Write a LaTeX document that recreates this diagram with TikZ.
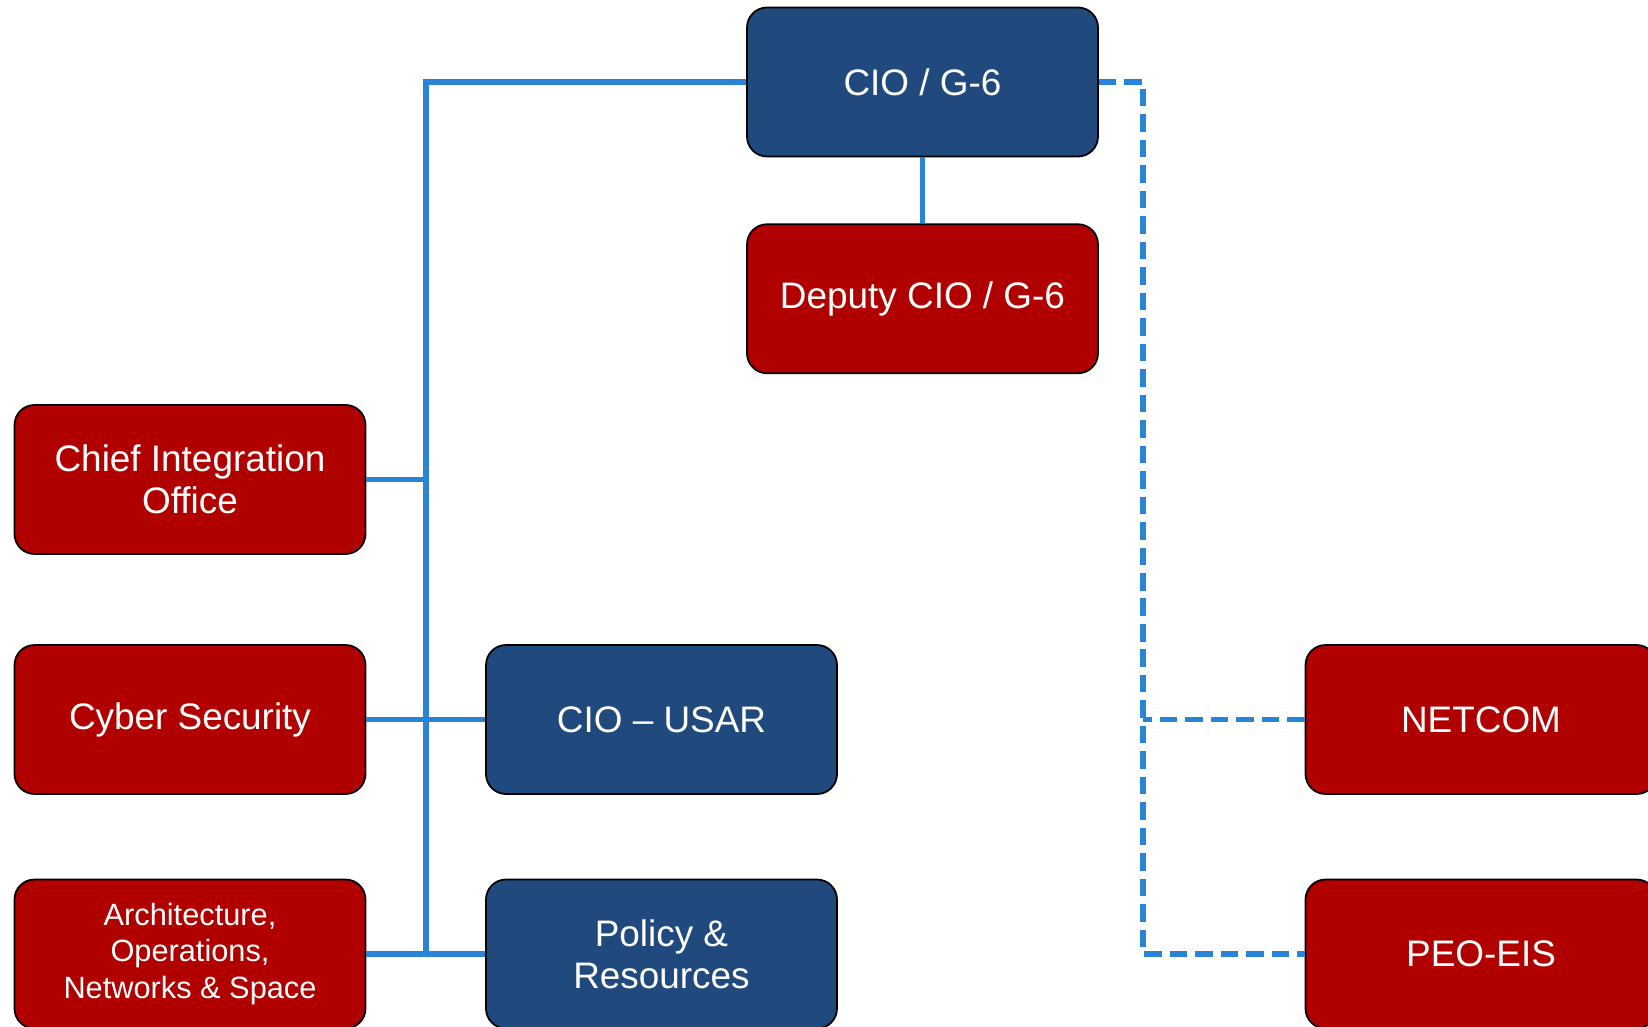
\documentclass[tikz,border=0pt]{standalone}
\usepackage{fontspec}
\setmainfont{Liberation Sans}
\usetikzlibrary{positioning,calc}
\definecolor{boxred}{RGB}{176,0,0}
\definecolor{boxblue}{RGB}{32,74,125}
\definecolor{linkblue}{RGB}{41,131,214}

\begin{document}
\begin{tikzpicture}[
            unit/.style={rectangle, draw=black, line width=1pt, rounded corners=0.4cm,
                   text=white, align=center, minimum width=7.02cm, minimum height=2.98cm,
                   font=\fontsize{21}{24}\selectfont},
            redunit/.style={unit, fill=boxred},
            blueunit/.style={unit, fill=boxblue},
            link/.style={draw=linkblue, line width=3pt},
            dlink/.style={link, dash pattern=on 10pt off 4.5pt}
        ]
            \useasboundingbox (0,0) rectangle (32.96,-20.52);

            \node [blueunit] (cio) at (18.45,-1.64) {CIO / G-6};
            \node [redunit,below=1.32cm of cio] (deputy) {Deputy CIO / G-6};
            \node [redunit] (chief) at (3.8,-9.59) {Chief Integration\\Office};
            \node [redunit] (cyber) at (3.8,-14.39) {Cyber Security};
            \node [redunit,font=\fontsize{17.5}{21}\selectfont] (arch) at (3.8,-19.08) {Architecture,\\Operations,\\Networks \& Space};
            \node [blueunit] (usar) at (13.23,-14.39) {CIO -- USAR};
            \node [blueunit] (policy) at (13.23,-19.08) {Policy \&\\Resources};
            \node [redunit] (netcom) at (29.62,-14.39) {NETCOM};
            \node [redunit] (peo) at (29.62,-19.08) {PEO-EIS};

            \coordinate (bus) at (8.52,0);
            \coordinate (dbus) at (22.86,0);

            % Draw edges
            \draw [link] (cio.west) -| (bus |- arch.east);
            \draw [link] (cio) -- (deputy);
            \draw [link] (chief.east) -- (chief.east -| bus);
            \draw [link] (cyber) -- (usar);
            \draw [link] (arch) -- (policy);
            \draw [dlink] (cio.east) -| (dbus |- peo.west) -- (peo.west);
            \draw [dlink] (netcom.west) -- (netcom.west -| dbus);
        \end{tikzpicture}
\end{document}
